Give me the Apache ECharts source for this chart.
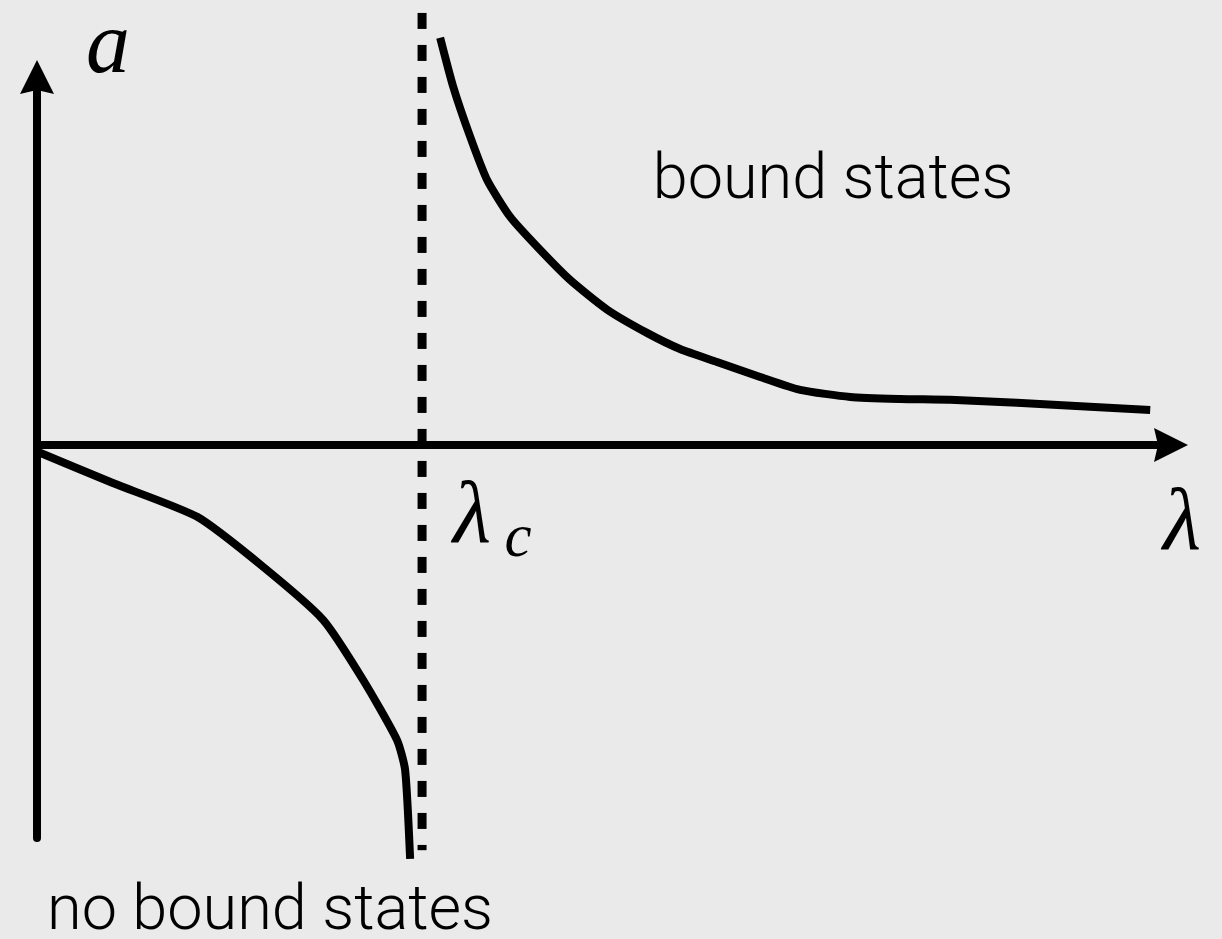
<!DOCTYPE html>
<html>
<head>
    <meta charset="UTF-8">
    <title>bound states</title>
    <style>
        html, body {
            margin: 0;
            padding: 0;
            background: #eaeaea;
        }
        #chart {
            width: 1222px;
            height: 939px;
        }
    </style>
    <script src="https://cdn.jsdelivr.net/npm/echarts@6/dist/echarts.min.js"></script>
</head>
<body>
    <div id="chart"></div>
    <script>
        // curve above lambda_c (bound states)
        var upperLambda = [1.047, 1.081, 1.125, 1.169, 1.229, 1.299, 1.384, 1.481, 1.584, 1.670, 1.766, 1.878, 1.982, 2.112, 2.242, 2.371, 2.545, 2.891];
        var upperA      = [1.036, 0.911, 0.784, 0.674, 0.580, 0.504, 0.420, 0.344, 0.285, 0.244, 0.211, 0.173, 0.140, 0.122, 0.117, 0.115, 0.107, 0.089];

        // curve below lambda_c (no bound states)
        var lowerLambda = [0.003, 0.197, 0.416, 0.587, 0.743, 0.847, 0.935, 0.956, 0.969];
        var lowerA      = [-0.018, -0.097, -0.183, -0.310, -0.445, -0.598, -0.751, -0.827, -1.053];

        // critical coupling, dotted asymptote
        var lambdaC = 1.0;
        var asymptoteA = [1.099, -1.031];

        function pairs(xs, ys) {
            return xs.map(function (x, i) { return [x, ys[i]]; });
        }

        var arrow = 'path://M17,0 L34,34 L17,30 L0,34 Z';
        var serif = "'Liberation Serif', 'DejaVu Serif', serif";
        var sans = "Roboto, 'Liberation Sans', sans-serif";

        var chart = echarts.init(document.getElementById('chart'));
        var option = {
            backgroundColor: '#eaeaea',
            animation: false,
            grid: { left: 37, right: 51, top: 77, bottom: 101 },
            xAxis: {
                type: 'value',
                min: 0,
                max: 2.945,
                axisLine: {
                    onZero: true,
                    symbol: ['none', arrow],
                    symbolSize: [34, 34],
                    lineStyle: { color: '#000', width: 8 }
                },
                axisTick: { show: false },
                axisLabel: { show: false },
                splitLine: { show: false }
            },
            yAxis: {
                type: 'value',
                min: -1,
                max: 0.936,
                axisLine: {
                    show: true,
                    onZero: true,
                    symbol: ['none', arrow],
                    symbolSize: [34, 34],
                    lineStyle: { color: '#000', width: 8 }
                },
                axisTick: { show: false },
                axisLabel: { show: false },
                splitLine: { show: false }
            },
            series: [
                {
                    type: 'line',
                    data: pairs([lambdaC, lambdaC], asymptoteA),
                    showSymbol: false,
                    clip: false,
                    lineStyle: { color: '#000', width: 9, type: [16, 16] }
                },
                {
                    type: 'line',
                    data: pairs(upperLambda, upperA),
                    showSymbol: false,
                    smooth: 0.2,
                    clip: false,
                    lineStyle: { color: '#000', width: 8, join: 'round' }
                },
                {
                    type: 'line',
                    data: pairs(lowerLambda, lowerA),
                    showSymbol: false,
                    smooth: 0.2,
                    clip: false,
                    lineStyle: { color: '#000', width: 8, join: 'round' }
                }
            ],
            graphic: [
                { type: 'text', x: 108, y: 49, style: { text: 'a', font: 'italic 88px ' + serif, fill: '#000', textAlign: 'center', textVerticalAlign: 'middle' } },
                { type: 'text', x: 472, y: 519, style: { text: 'λ', font: 'italic 88px ' + serif, fill: '#000', textAlign: 'center', textVerticalAlign: 'middle' } },
                { type: 'text', x: 518, y: 540, style: { text: 'c', font: 'italic 61px ' + serif, fill: '#000', textAlign: 'center', textVerticalAlign: 'middle' } },
                { type: 'text', x: 1182, y: 526, style: { text: 'λ', font: 'italic 88px ' + serif, fill: '#000', textAlign: 'center', textVerticalAlign: 'middle' } },
                { type: 'text', x: 833, y: 182, style: { text: 'bound states', font: '300 63px ' + sans, fill: '#000', textAlign: 'center', textVerticalAlign: 'middle' } },
                { type: 'text', x: 270, y: 913, style: { text: 'no bound states', font: '300 63px ' + sans, fill: '#000', textAlign: 'center', textVerticalAlign: 'middle' } }
            ]
        };
        chart.setOption(option);

        window.addEventListener('resize', function () {
            chart.resize();
        });
    </script>
</body>
</html>
